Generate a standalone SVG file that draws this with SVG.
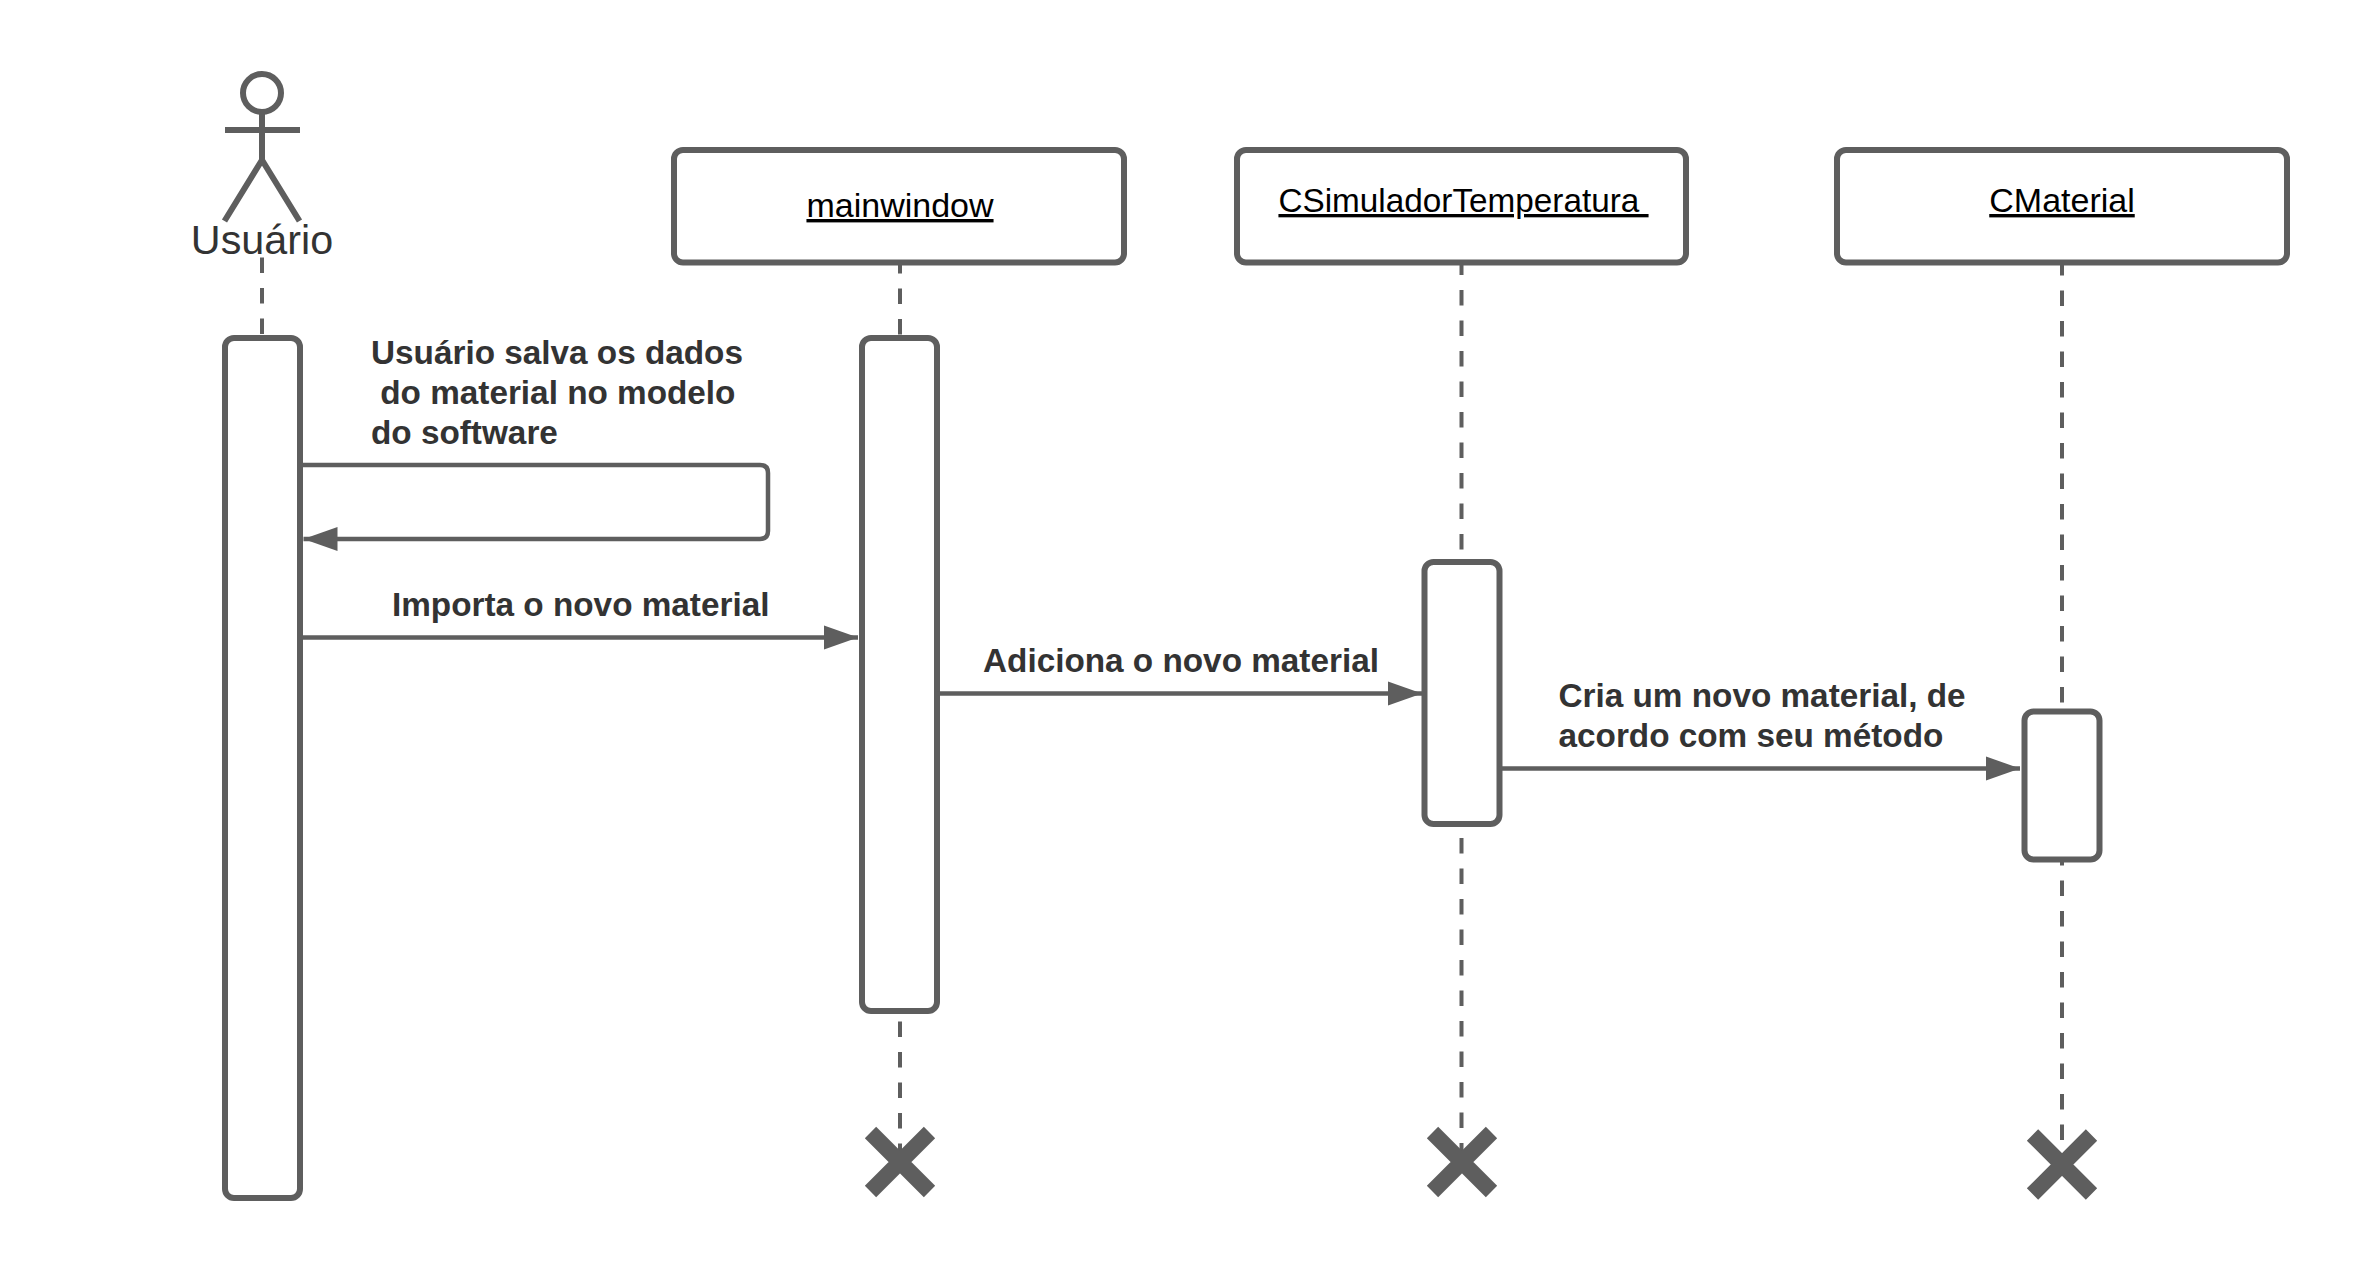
<svg xmlns="http://www.w3.org/2000/svg" width="2363" height="1277" viewBox="0 0 2363 1277">
<style>
.box{fill:#fff;stroke:#5e5e5e;stroke-width:6}
.life{fill:none;stroke:#5e5e5e;stroke-width:4;stroke-dasharray:15.500 15}
.msg{fill:none;stroke:#5e5e5e;stroke-width:4.500}
.act{fill:none;stroke:#5e5e5e;stroke-width:6}
.x{fill:none;stroke:#5e5e5e;stroke-width:16}
.lbl{font:bold 33.300px "Liberation Sans",Arial,sans-serif;fill:#333}
.name{font:34px "Liberation Sans",Arial,sans-serif;fill:#000;text-decoration:underline;text-anchor:middle}
</style>
<defs><marker id="arrow" markerUnits="userSpaceOnUse" markerWidth="36" markerHeight="26" refX="34" refY="13" orient="auto-start-reverse"><path d="M0,1 L34,13 L0,25 Z" fill="#5e5e5e"/></marker></defs>
<rect width="2363" height="1277" fill="#fff"/>
<g id="lifelines">
<path class="life" d="M262 257.500V338"/>
<path class="life" d="M900 258V338M900 1021.500V1165"/>
<path class="life" d="M1461.500 259.500V552M1461.500 838V1165"/>
<path class="life" d="M2062 260V711M2062 850V1165"/>
</g>
<g id="actor-usuario">
<ellipse cx="262" cy="93" rx="19" ry="19" class="act"/>
<path class="act" d="M262 112V160M225 130H300M262 160L224.500 221M262 160L299.500 221"/>
<text x="262" y="254" text-anchor="middle" style="font:41.300px 'Liberation Sans',Arial,sans-serif;fill:#333">Usuário</text>
</g>
<g id="node-mainwindow"><rect class="box" x="674" y="150" width="450" height="112.500" rx="9"/><text class="name" x="900" y="217">mainwindow</text></g>
<g id="node-csimulador"><rect class="box" x="1237" y="150" width="449" height="112.500" rx="9"/><text class="name" x="1463.500" y="212" xml:space="preserve" style="font-size:33.300px">CSimuladorTemperatura </text></g>
<g id="node-cmaterial"><rect class="box" x="1837" y="150" width="450" height="112.500" rx="9"/><text class="name" x="2062" y="212">CMaterial</text></g>
<g id="activation-usuario"><rect class="box" x="225" y="338" width="75" height="860" rx="9"/></g>
<g id="activation-mainwindow"><rect class="box" x="862" y="338" width="75" height="673" rx="9"/></g>
<g id="activation-csimulador"><rect class="box" x="1424.500" y="562" width="75" height="262" rx="9"/></g>
<g id="activation-cmaterial"><rect class="box" x="2024.500" y="711.500" width="75" height="148" rx="9"/></g>
<g id="end-mainwindow"><path class="x" d="M870.500 1132.500L929.500 1191.500M929.500 1132.500L870.500 1191.500"/></g>
<g id="end-csimulador"><path class="x" d="M1432.500 1132.500L1491.500 1191.500M1491.500 1132.500L1432.500 1191.500"/></g>
<g id="end-cmaterial"><path class="x" d="M2032.500 1135L2091.500 1194M2091.500 1135L2032.500 1194"/></g>
<g id="connectors">
<path class="msg" d="M300 465H760Q768 465 768 473V531Q768 539 760 539H303.500" marker-end="url(#arrow)"/>
<path class="msg" d="M300 637.500H858" marker-end="url(#arrow)"/>
<path class="msg" d="M937 693.500H1422" marker-end="url(#arrow)"/>
<path class="msg" d="M1499 768.500H2020" marker-end="url(#arrow)"/>
</g>
<g id="labels">
<text class="lbl" x="371" y="363.500">Usuário salva os dados</text>
<text class="lbl" x="371" y="403.500" xml:space="preserve"> do material no modelo</text>
<text class="lbl" x="371" y="443.500">do software</text>
<text class="lbl" x="392" y="616">Importa o novo material</text>
<text class="lbl" x="983" y="672">Adiciona o novo material</text>
<text class="lbl" x="1558.500" y="707">Cria um novo material, de</text>
<text class="lbl" x="1558.500" y="747">acordo com seu método</text>
</g>
</svg>
